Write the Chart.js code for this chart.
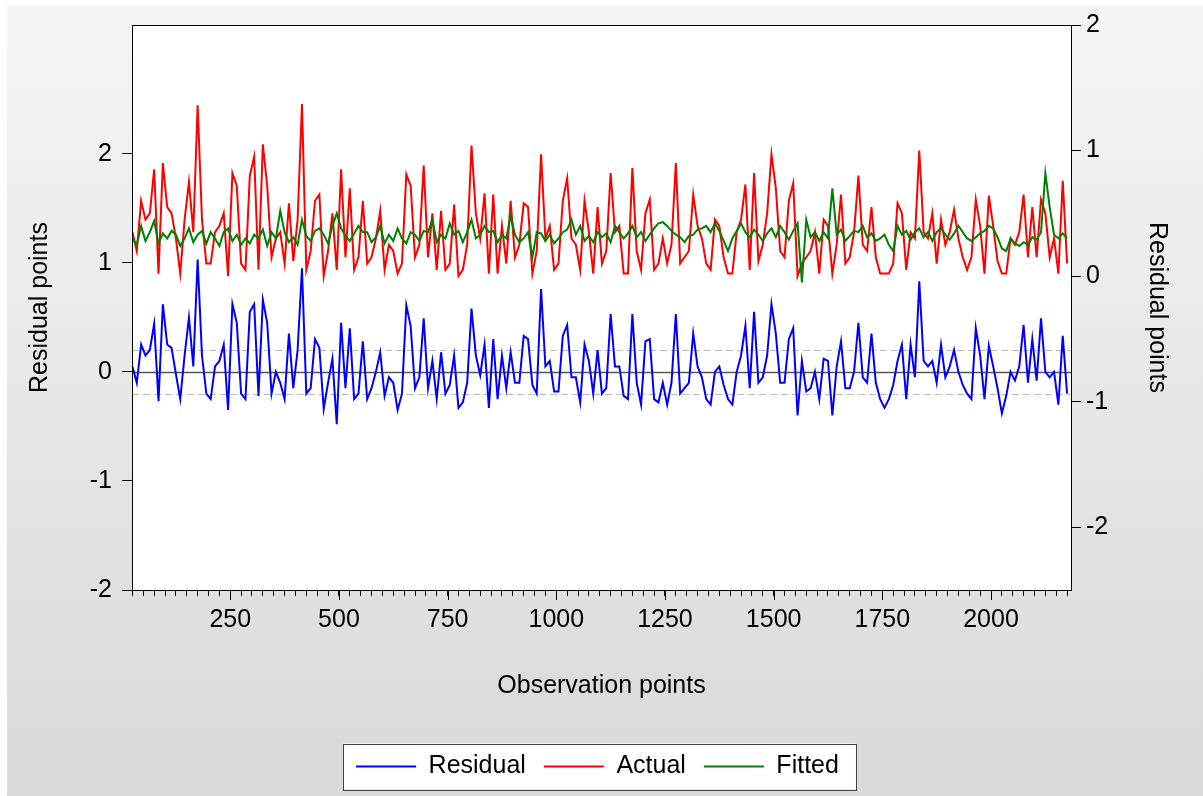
<!DOCTYPE html>
<html lang="en">
<head>
<meta charset="UTF-8">
<title>Residual / Actual / Fitted</title>
<script src="https://cdn.jsdelivr.net/npm/chart.js"></script>
<style>
  html, body { margin: 0; padding: 0; background: #fff; }
  #wrap {
    position: absolute; left: 7px; top: 5px; width: 1196px; height: 791px;
    background: linear-gradient(#f5f5f5, #d9d9d9);
  }
</style>
</head>
<body>
<div id="wrap"><canvas id="chartCanvas" width="1196" height="791"></canvas></div>
<script>
const residual = [
  0.05,-0.10,0.25,0.15,0.20,0.44,-0.27,0.62,0.25,0.22,-0.02,-0.25,0.15,0.50,0.05,1.03,0.15,-0.20,-0.25,0.05,0.10,0.25,-0.35,0.62,0.45,-0.20,-0.25,
  0.55,0.62,-0.22,0.66,0.45,-0.20,0.00,-0.10,-0.25,0.35,-0.15,0.20,0.95,-0.20,-0.15,0.30,0.22,-0.34,-0.10,0.12,-0.48,0.45,-0.15,0.40,-0.25,-0.20,0.28,
  -0.25,-0.15,0.00,0.18,-0.22,-0.05,-0.10,-0.35,-0.20,0.61,0.42,-0.15,-0.05,0.49,-0.15,0.10,-0.25,0.18,-0.20,-0.12,0.15,-0.33,-0.28,-0.10,0.58,0.15,
  -0.03,0.25,-0.33,0.30,-0.25,0.15,-0.15,0.18,-0.10,-0.10,0.33,0.30,-0.12,-0.20,0.76,0.05,0.10,-0.18,-0.18,0.33,0.43,-0.05,-0.05,-0.28,0.25,0.10,-0.20,
  0.20,-0.20,-0.15,0.53,0.05,0.05,-0.22,-0.25,0.53,-0.10,-0.30,0.28,0.30,-0.25,-0.28,-0.10,-0.30,-0.10,0.53,-0.20,-0.15,-0.10,0.35,0.05,-0.05,-0.25,
  -0.30,0.00,0.05,-0.12,-0.25,-0.30,0.00,0.15,0.42,-0.15,0.55,-0.10,-0.05,0.15,0.62,0.35,-0.10,-0.10,0.30,0.40,-0.40,0.10,-0.18,-0.15,0.00,-0.25,0.12,
  0.10,-0.40,0.05,0.28,-0.15,-0.15,0.00,0.45,-0.05,-0.10,0.35,-0.10,-0.25,-0.33,-0.25,-0.12,0.10,0.25,-0.25,0.25,-0.05,0.83,0.10,0.05,0.10,-0.10,
  0.25,-0.05,0.05,0.20,0.00,-0.12,-0.20,-0.25,0.40,0.15,-0.25,0.24,0.05,-0.15,-0.38,-0.22,0.00,-0.08,0.05,0.43,-0.10,0.30,-0.08,0.49,0.00,-0.05,0.00,-0.30,0.33,-0.20
];
const actual = [
  0.35,0.20,0.60,0.45,0.50,0.85,0.02,0.90,0.55,0.50,0.30,0.02,0.45,0.75,0.35,1.36,0.45,0.10,0.10,0.35,0.40,0.50,0.00,0.82,0.72,0.10,0.05,
  0.80,0.95,0.05,1.05,0.72,0.15,0.30,0.35,0.10,0.58,0.12,0.45,1.37,0.05,0.20,0.60,0.65,0.00,0.20,0.50,0.05,0.85,0.15,0.70,0.05,0.15,0.60,
  0.10,0.15,0.30,0.52,0.05,0.25,0.20,0.02,0.10,0.81,0.72,0.15,0.25,0.88,0.15,0.50,0.05,0.52,0.05,0.10,0.57,0.00,0.05,0.25,1.04,0.50,
  0.30,0.66,0.02,0.65,0.02,0.40,0.10,0.60,0.15,0.25,0.58,0.55,0.02,0.20,0.97,0.30,0.40,0.05,0.10,0.60,0.78,0.30,0.25,0.05,0.60,0.35,0.02,
  0.55,0.10,0.20,0.82,0.35,0.40,0.02,0.02,0.86,0.20,0.05,0.50,0.61,0.05,0.10,0.30,0.10,0.25,0.90,0.10,0.15,0.20,0.65,0.40,0.30,0.10,
  0.05,0.45,0.40,0.15,0.02,0.02,0.35,0.45,0.73,0.05,0.82,0.12,0.25,0.50,0.97,0.70,0.20,0.15,0.60,0.74,0.00,0.10,0.15,0.20,0.35,0.02,0.45,
  0.40,0.02,0.25,0.65,0.10,0.15,0.35,0.80,0.25,0.20,0.55,0.15,0.02,0.02,0.02,0.10,0.58,0.50,0.05,0.35,0.30,1.00,0.35,0.30,0.50,0.10,
  0.45,0.25,0.35,0.53,0.30,0.15,0.05,0.15,0.61,0.40,0.02,0.64,0.40,0.12,0.02,0.02,0.30,0.25,0.35,0.65,0.15,0.55,0.15,0.61,0.50,0.15,0.30,0.02,0.76,0.10
];
const fitted = [
  0.30,0.25,0.40,0.28,0.35,0.44,0.26,0.34,0.30,0.36,0.33,0.24,0.30,0.38,0.27,0.33,0.36,0.26,0.35,0.30,0.24,0.35,0.38,0.28,0.33,0.25,0.30,
  0.26,0.33,0.30,0.37,0.24,0.35,0.30,0.52,0.35,0.27,0.31,0.25,0.45,0.32,0.28,0.36,0.38,0.33,0.26,0.40,0.50,0.38,0.32,0.28,0.34,0.40,0.35,
  0.35,0.27,0.31,0.40,0.26,0.33,0.28,0.38,0.30,0.26,0.35,0.33,0.28,0.36,0.35,0.45,0.27,0.33,0.30,0.42,0.33,0.36,0.27,0.35,0.45,0.30,
  0.33,0.40,0.35,0.36,0.27,0.33,0.30,0.48,0.33,0.27,0.30,0.35,0.15,0.35,0.34,0.28,0.33,0.26,0.30,0.35,0.37,0.45,0.33,0.40,0.28,0.32,0.27,
  0.35,0.31,0.34,0.27,0.40,0.35,0.30,0.34,0.40,0.31,0.35,0.28,0.33,0.38,0.42,0.43,0.40,0.36,0.33,0.31,0.27,0.32,0.33,0.37,0.38,0.40,
  0.35,0.42,0.36,0.28,0.20,0.30,0.36,0.42,0.35,0.31,0.37,0.33,0.28,0.34,0.38,0.31,0.40,0.35,0.29,0.36,0.42,-0.05,0.45,0.31,0.35,0.28,0.35,
  0.30,0.70,0.33,0.37,0.28,0.32,0.36,0.35,0.40,0.31,0.34,0.28,0.30,0.33,0.25,0.20,0.40,0.33,0.36,0.29,0.35,0.38,0.31,0.35,0.28,0.35,
  0.38,0.33,0.29,0.34,0.40,0.35,0.30,0.28,0.31,0.34,0.36,0.40,0.38,0.31,0.22,0.20,0.30,0.26,0.24,0.27,0.25,0.31,0.29,0.35,0.82,0.55,0.33,0.30,0.34,0.30
];
const obs = residual.map((_, i) => 25 + i * 10);

const xLabels = [250, 500, 750, 1000, 1250, 1500, 1750, 2000];
const xMinorStep = 25;
const leftTicks = [-2, -1, 0, 1, 2];
const rightTicks = [-2, -1, 0, 1, 2];
const seBand = [0.2, -0.2];

const FONT = "'Liberation Sans', Arial, sans-serif";

function points(values) {
  return values.map((v, i) => ({ x: obs[i], y: v }));
}

// legend frame, plot frame, residual reference lines, long major ticks
const framePlugin = {
  id: 'frames',
  beforeDraw(chart) {
    const boxes = chart.legend && chart.legend.legendHitBoxes;
    if (!boxes || !boxes.length) return;
    const ctx = chart.ctx;
    let l = Infinity, r = -Infinity;
    boxes.forEach(b => { l = Math.min(l, b.left); r = Math.max(r, b.left + b.width); });
    const top = boxes[0].top + boxes[0].height / 2 - 23;
    ctx.save();
    ctx.fillStyle = '#fff';
    ctx.fillRect(l - 13, top, r - l + 30, 46);
    ctx.strokeStyle = '#444';
    ctx.lineWidth = 1;
    ctx.strokeRect(Math.round(l - 13) + 0.5, Math.round(top) + 0.5, Math.round(r - l + 30), 46);
    const a = chart.chartArea;
    ctx.fillRect(a.left, a.top, a.right - a.left, a.bottom - a.top);
    ctx.restore();
  },
  beforeDatasetsDraw(chart) {
    const ctx = chart.ctx, y = chart.scales.y, a = chart.chartArea;
    ctx.save();
    ctx.lineWidth = 1;
    ctx.strokeStyle = '#bdbdbd';
    ctx.setLineDash([7, 4]);
    seBand.forEach(v => {
      const py = Math.round(y.getPixelForValue(v)) + 0.5;
      ctx.beginPath(); ctx.moveTo(a.left, py); ctx.lineTo(a.right, py); ctx.stroke();
    });
    ctx.setLineDash([]);
    ctx.strokeStyle = '#555';
    ctx.lineWidth = 1.5;
    const p0 = Math.round(y.getPixelForValue(0)) + 0.5;
    ctx.beginPath(); ctx.moveTo(a.left, p0); ctx.lineTo(a.right, p0); ctx.stroke();
    ctx.restore();
  },
  afterDraw(chart) {
    const ctx = chart.ctx, a = chart.chartArea, xs = chart.scales.x;
    ctx.save();
    ctx.strokeStyle = '#000';
    ctx.lineWidth = 1;
    ctx.strokeRect(Math.round(a.left) + 0.5, Math.round(a.top) + 0.5,
                   Math.round(a.right - a.left), Math.round(a.bottom - a.top));
    ctx.beginPath();
    xLabels.forEach(v => {
      const px = Math.round(xs.getPixelForValue(v)) + 0.5;
      ctx.moveTo(px, a.bottom); ctx.lineTo(px, a.bottom + 10);
    });
    ctx.stroke();
    ctx.restore();
  }
};

const ctx = document.getElementById('chartCanvas').getContext('2d');
new Chart(ctx, {
  type: 'line',
  data: {
    datasets: [
      { label: 'Residual', data: points(residual), yAxisID: 'y', order: 3,
        borderColor: '#0000ff', backgroundColor: '#0000ff', borderWidth: 2 },
      { label: 'Actual', data: points(actual), yAxisID: 'y2', order: 2,
        borderColor: '#ff0000', backgroundColor: '#ff0000', borderWidth: 2 },
      { label: 'Fitted', data: points(fitted), yAxisID: 'y2', order: 1,
        borderColor: '#008000', backgroundColor: '#008000', borderWidth: 2 }
    ]
  },
  options: {
    responsive: false,
    animation: false,
    elements: { point: { radius: 0 }, line: { tension: 0 } },
    layout: { padding: { left: 15, right: 30, top: 20, bottom: 7 } },
    plugins: {
      tooltip: { enabled: false },
      legend: {
        position: 'bottom',
        labels: {
          boxWidth: 60,
          boxHeight: 2,
          padding: 18,
          color: '#000',
          font: { family: FONT, size: 25 },
          generateLabels: (chart) =>
            Chart.defaults.plugins.legend.labels.generateLabels(chart)
              .map(l => Object.assign(l, { lineWidth: 0 })),
          sort: (a, b) => a.datasetIndex - b.datasetIndex
        }
      }
    },
    scales: {
      x: {
        type: 'linear',
        min: 24,
        max: 2184,
        border: { display: false },
        grid: { drawOnChartArea: false, tickLength: 6, tickColor: '#000' },
        ticks: {
          autoSkip: false, maxRotation: 0, padding: 9, color: '#000',
          font: { family: FONT, size: 25 },
          callback: (v) => xLabels.includes(v) ? String(v) : ''
        },
        title: {
          display: true, text: 'Observation points', color: '#000',
          font: { family: FONT, size: 25 }, padding: { top: 0, bottom: 35 }
        },
        afterBuildTicks: (axis) => {
          const t = [];
          for (let v = xMinorStep; v <= 2175; v += xMinorStep) t.push({ value: v });
          axis.ticks = t;
        },
        afterFit: (axis) => { axis.height = 146; }
      },
      y: {
        position: 'left',
        min: -2,
        max: 3.18,
        border: { display: false },
        grid: { drawOnChartArea: false, tickLength: 10, tickColor: '#000' },
        ticks: { padding: 10, color: '#000', font: { family: FONT, size: 25 },
                 callback: (v) => String(v) },
        title: {
          display: true, text: 'Residual points', color: '#000',
          font: { family: FONT, size: 25 }, padding: { top: 3, bottom: 0 }
        },
        afterBuildTicks: (axis) => { axis.ticks = leftTicks.map(v => ({ value: v })); },
        afterFit: (axis) => { axis.width = 110; axis.paddingTop = 0; axis.paddingBottom = 0; }
      },
      y2: {
        position: 'right',
        min: -2.5,
        max: 2,
        border: { display: false },
        grid: { drawOnChartArea: false, tickLength: 10, tickColor: '#000' },
        ticks: { padding: 5, color: '#000', font: { family: FONT, size: 25 },
                 callback: (v) => String(v) },
        title: {
          display: true, text: 'Residual points', color: '#000',
          font: { family: FONT, size: 25 }, padding: { top: 1, bottom: 0 }
        },
        afterBuildTicks: (axis) => { axis.ticks = rightTicks.map(v => ({ value: v })); },
        afterFit: (axis) => { axis.width = 102; axis.paddingTop = 0; axis.paddingBottom = 0; }
      }
    }
  },
  plugins: [framePlugin]
});
</script>
</body>
</html>
